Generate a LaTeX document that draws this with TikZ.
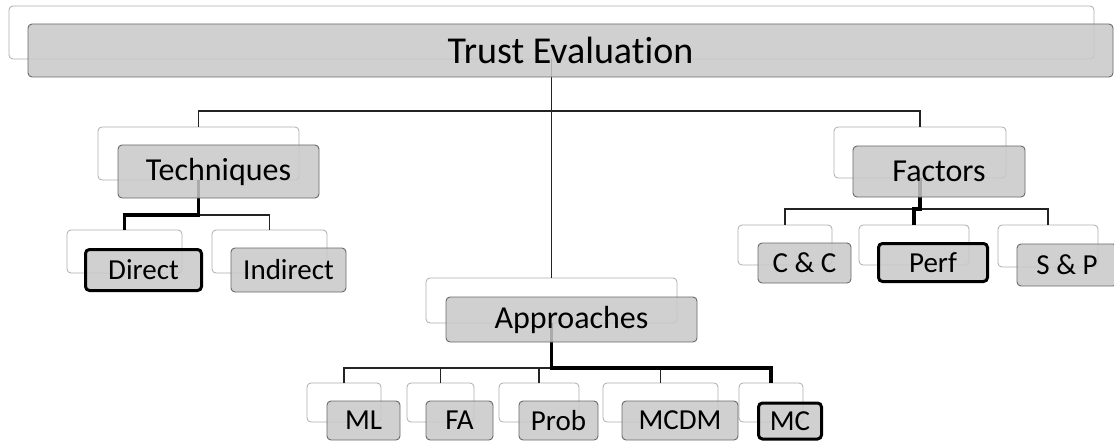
\documentclass[tikz,border=0pt]{standalone}
\usepackage{fontspec}
\setmainfont{Carlito}[Ligatures=NoCommon]
\definecolor{cardfill}{RGB}{200,200,200}
\definecolor{cardedge}{RGB}{105,105,105}
\definecolor{backedge}{RGB}{172,172,172}
\definecolor{wire}{RGB}{35,35,35}
\tikzset{
  backcard/.style={draw=backedge, line width=0.8pt, rounded corners=4pt,
    inner sep=0pt, outer sep=0pt, minimum width=#1},
  frontcard/.style={draw=cardedge, line width=0.9pt, fill=cardfill,
    fill opacity=0.85, text opacity=1, draw opacity=1, rounded corners=4pt,
    inner sep=0pt, outer sep=0pt, minimum width=#1},
  picked/.style={draw=black, line width=3pt},
  lvzero/.style={font=\fontsize{38}{41}\selectfont, minimum height=53pt},
  lvone/.style={font=\fontsize{32}{35}\selectfont},
  lvtwo/.style={font=\fontsize{29}{32}\selectfont},
  wireline/.style={draw=wire, line width=1.3pt},
  pickedwire/.style={draw=black, line width=3.5pt},
}
\begin{document}
\begin{tikzpicture}[x=1pt, y=-1pt]
\useasboundingbox (0,0) rectangle (1114,441);
\clip (0,0) rectangle (1114,441);

% bus levels of the tree
\coordinate (busTop) at (0,111);
\coordinate (busTech) at (0,215);
\coordinate (busFact) at (0,209);
\coordinate (busAppr) at (0,368);

% back cards
\node[backcard=1085pt, minimum height=53pt] (topW)  at (551.5,32.5) {};
\node[backcard=201pt, minimum height=53pt] (techW) at (198.5,153.5) {};
\node[backcard=172pt, minimum height=51pt] (factW) at (920,152.5) {};
\node[backcard=251pt, minimum height=45pt] (apprW) at (551.5,300.5) {};
\node[backcard=115pt, minimum height=43pt] (dirW)  at (124.5,251.5) {};
\node[backcard=115pt, minimum height=43pt] (indW)  at (269.5,251.5) {};
\node[backcard=94pt,  minimum height=40pt] (ccW)   at (785,245) {};
\node[backcard=110pt, minimum height=40pt] (perfW) at (914,245) {};
\node[backcard=100pt, minimum height=42pt] (spW)   at (1048,246) {};
\node[backcard=74pt,  minimum height=39pt] (mlW)   at (344,402.5) {};
\node[backcard=67pt,  minimum height=39pt] (faW)   at (440.5,402.5) {};
\node[backcard=80pt,  minimum height=39pt] (probW) at (539,402.5) {};
\node[backcard=115pt, minimum height=39pt] (mcdmW) at (660.5,402.5) {};
\node[backcard=64pt,  minimum height=39pt] (mcW)   at (771,402.5) {};

% connectors
\draw[wireline] (topW.south) -- (apprW.north);
\draw[wireline] (techW.north) -- (techW.north |- busTop) -| (factW.north);

\draw[wireline] (dirW.north) -- (dirW.north |- busTech) -| (indW.north);
\draw[pickedwire] (techW.south) -- (techW.south |- busTech) -| (dirW.north);

\draw[wireline] (ccW.north) -- (ccW.north |- busFact) -| (spW.north);
\draw[pickedwire] (factW.south) -- (factW.south |- busFact) -| (perfW.north);

\draw[wireline] (mlW.north) -- (mlW.north |- busAppr) -| (mcW.north);
\draw[wireline] (faW.north) -- (faW.north |- busAppr);
\draw[wireline] (probW.north) -- (probW.north |- busAppr);
\draw[wireline] (mcdmW.north) -- (mcdmW.north |- busAppr);
\draw[pickedwire] (apprW.south) -- (apprW.south |- busAppr) -| (mcW.north);

% front cards
\node[frontcard=1085pt, lvzero] (top) at (570.5,50.5) {Trust Evaluation};
\node[frontcard=201pt, minimum height=53pt, lvone] (tech) at (218.5,171.5) {Techniques};
\node[frontcard=172pt, minimum height=51pt, lvone] (fact) at (939,171.5) {Factors};
\node[frontcard=251pt, minimum height=45pt, lvone] (appr) at (571.5,319.5) {Approaches};
\node[frontcard=116pt, minimum height=41pt, lvtwo, picked] (dir) at (143.5,270) {Direct};
\node[frontcard=115pt, minimum height=44pt, lvtwo] (ind) at (288.5,270) {Indirect};
\node[frontcard=93pt,  minimum height=40pt, lvtwo] (cc) at (804.5,263) {C \& C};
\node[frontcard=109pt, minimum height=38pt, lvtwo, picked] (perf) at (933,262.5) {Perf};
\node[frontcard=100pt, minimum height=42pt, lvtwo] (sp) at (1067,265) {S \& P};
\node[frontcard=73pt,  minimum height=39pt, lvtwo] (ml) at (363.5,420.5) {ML};
\node[frontcard=67pt,  minimum height=39pt, lvtwo] (fa) at (459.5,420.5) {FA};
\node[frontcard=79pt,  minimum height=39pt, lvtwo] (prob) at (558.5,420.5) {Prob};
\node[frontcard=116pt, minimum height=39pt, lvtwo] (mcdm) at (680,420.5) {MCDM};
\node[frontcard=63pt,  minimum height=36pt, lvtwo, picked] (mc) at (790,421) {MC};
\end{tikzpicture}
\end{document}
